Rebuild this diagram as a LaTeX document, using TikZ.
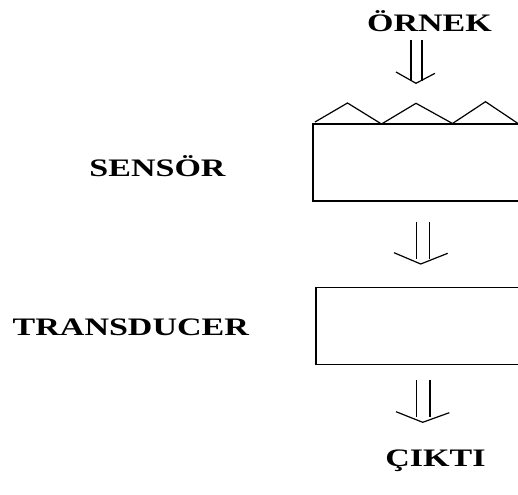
\documentclass[tikz,border=0pt]{standalone}
\usepackage{fontspec}
\setmainfont{Liberation Serif}
\usepackage{graphicx}
\begin{document}
\begin{tikzpicture}[x=1pt,y=-1pt,line width=1.2pt,
  lbl/.style={inner sep=0pt,anchor=base,font=\fontsize{34}{34}\selectfont\bfseries},
  boxline/.style={draw=black,line width=1.2pt},
  dbl/.style={draw=black,line width=1.2pt}]
\clip (0,0) rectangle (518,494);
\fill[white] (0,0) rectangle (518,494);
% labels
\node[lbl] (ornek) at (429.5,32) {\scalebox{1}[0.74]{ÖRNEK}};
\node[lbl] (sensor) at (157.5,176) {\scalebox{1}[0.74]{SENSÖR}};
\node[lbl] (trans) at (130.8,335) {\scalebox{1}[0.74]{TRANSDUCER}};
\node[lbl] (cikti) at (435.5,466.7) {\scalebox{1}[0.74]{ÇIKTI}};
% sensor box
\coordinate (s1) at (313,124);
\coordinate (s2) at (313,201);
\draw[boxline] (530,124) -- (s1) -- (s2) -- (530,201);
% zigzag
\draw[boxline,line join=miter] (315,122) -- (347.5,103) -- (381.5,124) -- (416,103.3) -- (452.5,123.5) -- (485.5,101.7) -- (518,123.5);
% transducer box
\coordinate (t1) at (316,287.5);
\coordinate (t2) at (316,364.3);
\draw[boxline] (530,287.5) -- (t1) -- (t2) -- (530,364.3);
% arrow 1
\coordinate (a1s) at (416.5,40);
\coordinate (a1e) at (416.5,81);
\draw[dbl] ([xshift=-5.5pt]a1s) -- ([xshift=-5.5pt]a1e);
\draw[dbl] ([xshift=5.5pt]a1s) -- ([xshift=5.5pt]a1e);
\draw[dbl] (396,72) -- (416,83.3) -- (435,73.3);
% arrow 2
\coordinate (a2s) at (423,221.7);
\coordinate (a2e) at (423,258.5);
\draw[dbl] ([xshift=-6.3pt]a2s) -- ([xshift=-6.3pt]a2e);
\draw[dbl] ([xshift=6.3pt]a2s) -- ([xshift=6.3pt]a2e);
\draw[dbl] (394,252.7) -- (420.7,264) -- (447.7,253.3);
% arrow 3
\coordinate (a3s) at (423.3,380);
\coordinate (a3e) at (423.3,417);
\draw[dbl] ([xshift=-6.6pt]a3s) -- ([xshift=-6.6pt]a3e);
\draw[dbl] ([xshift=6.6pt]a3s) -- ([xshift=6.6pt]a3e);
\draw[dbl] (396,411.7) -- (422.7,422.3) -- (449.3,412.7);
\end{tikzpicture}
\end{document}
